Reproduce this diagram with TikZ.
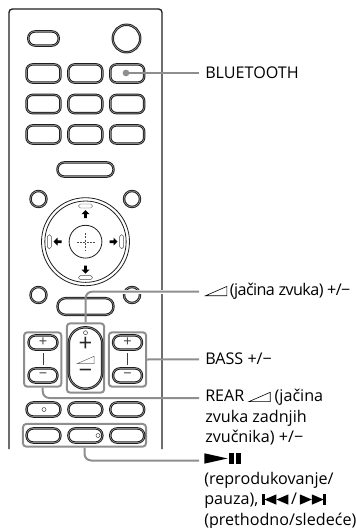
\documentclass[tikz,border=0pt]{standalone}
\usepackage{fontspec}
\setmainfont{Open Sans}
\usepackage{xcolor}
\usetikzlibrary{positioning}

\definecolor{keyline}{HTML}{1E1E1E}
\definecolor{leadgray}{HTML}{8E8E8E}

% inline symbols of the labels
\newcommand{\volicon}{\tikz[baseline=0pt,x=1pt,y=1pt]{\draw[line width=.45pt] (0,0) -- (16,0) -- (16,7) -- cycle;}}
\newcommand{\playicon}{\tikz[baseline=0pt,x=1pt,y=1pt]{\fill[black] (0,0) -- (17.5,3.9) -- (0,7.8) -- cycle; \fill[black] (18.5,0) rectangle (22.2,7.8); \fill[black] (24,0) rectangle (27.7,7.8);}}
\newcommand{\previcon}{\tikz[baseline=0pt,x=1pt,y=1pt]{\fill[black] (0,0) rectangle (1.8,7.8); \fill[black] (1.5,3.9) -- (10.5,7.8) -- (10.5,0) -- cycle; \fill[black] (10.5,3.9) -- (19.5,7.8) -- (19.5,0) -- cycle;}}
\newcommand{\nexticon}{\tikz[baseline=0pt,x=1pt,y=1pt]{\fill[black] (0,0) -- (9,3.9) -- (0,7.8) -- cycle; \fill[black] (9,0) -- (18,3.9) -- (9,7.8) -- cycle; \fill[black] (17.7,0) rectangle (19.5,7.8);}}

\begin{document}
\begin{tikzpicture}[
  x=.75pt, y=-.75pt,
  node distance=5.25pt,
  key/.style={rectangle, rounded corners=4.5pt, draw=keyline, double=white!75!black, double distance=.3pt, line width=.75pt, inner sep=0pt, minimum width=25.4pt, minimum height=13.6pt},
  pill/.style={rectangle, rounded corners=5pt, draw=keyline, double=white!75!black, double distance=.3pt, line width=.75pt, inner sep=0pt, minimum width=25.4pt, minimum height=10.6pt},
  sidekey/.style={pill, minimum width=21.6pt, font=\fontsize{11}{11}\selectfont, text=black!75},
  round/.style={circle, draw=keyline, double=white!75!black, double distance=.3pt, line width=.75pt, inner sep=0pt},
  slot/.style={rectangle, rounded corners=1.4pt, draw=black!70, line width=.35pt, inner sep=0pt},
  hole/.style={circle, draw=black!80, line width=.35pt, inner sep=0pt, minimum size=3pt},
  groupbox/.style={rectangle, rounded corners=2.5pt, draw=leadgray, line width=1.5pt, inner sep=0pt},
  leader/.style={draw=leadgray, line width=1.5pt, rounded corners=5pt},
  lbl/.style={anchor=west, inner sep=0pt, align=left, font=\fontsize{12.1}{15.4}\selectfont},
  sign/.style={inner sep=0pt, text=black!85, font=\fontsize{18}{18}\selectfont},
  dpadarrow/.pic={\fill[black] (-4,-.5) -- (0,-4.5) -- (4,-.5) -- (1.4,-.5) -- (1.4,3.5) -- (-1.4,3.5) -- (-1.4,-.5) -- cycle;},
]
  \useasboundingbox (0,0) rectangle (356,528);

  % case
  \draw[keyline, line width=1pt, rounded corners=2.5pt] (9,449) -- (9,9) -- (162,9) -- (162,449);

  % top
  \node[pill, minimum width=22.8pt] (power) at (43.5,38.5) {};
  \node[round, minimum size=20.6pt] (dial) at (126.5,38.5) {};

  % key block
  \node[key] (k11) at (43.5,73.5) {};
  \node[key, right=of k11] (k12) {};
  \node[key, right=of k12] (k13) {};
  \node[key] (k21) at (43.5,104) {};
  \node[key, right=of k21] (k22) {};
  \node[key, right=of k22] (k23) {};
  \node[key] (k31) at (43.5,134.5) {};
  \node[key, right=of k31] (k32) {};
  \node[key, right=of k32] (k33) {};
  \node[pill, minimum width=42pt] (wide) at (85.5,169.5) {};

  % d-pad
  \node[circle, draw=keyline, line width=.6pt, minimum size=66pt, inner sep=0pt] (ring) at (85.5,241.7) {};
  \node[circle, draw=keyline, line width=.6pt, minimum size=61pt, inner sep=0pt] (ringin) at (85.5,241.7) {};
  \node[circle, draw=keyline, line width=.6pt, minimum size=24.6pt, inner sep=0pt] (enter) at (85.5,241.7) {};
  \node[slot, minimum width=10.5pt, minimum height=3pt] (sn) at (85.5,206) {};
  \node[slot, minimum width=10.5pt, minimum height=3pt] (ss) at (85.5,277.7) {};
  \node[slot, minimum width=3pt, minimum height=10.5pt] (sw) at (49.3,241.7) {};
  \node[slot, minimum width=3pt, minimum height=10.5pt] (se) at (121.7,241.7) {};
  \pic at (85.5,214.5) {dpadarrow};
  \pic[rotate=180] at (85.5,269) {dpadarrow};
  \pic[rotate=-90] at (113,241.7) {dpadarrow};
  \pic[rotate=90] at (58,241.7) {dpadarrow};
  \draw[black!70, line width=.3pt, dash pattern=on 1.5pt off 1pt] (85.5,233) -- (85.5,250.5);
  \draw[black!70, line width=.3pt, dash pattern=on 1.5pt off 1pt] (76.5,241.7) -- (94.5,241.7);

  \node[round, minimum size=12pt] (c1) at (38.5,199) {};
  \node[round, minimum size=12pt] (c2) at (132,199) {};
  \node[round, minimum size=12pt] (c3) at (38.5,295) {};
  \node[round, minimum size=12pt] (c4) at (132,295) {};
  \node[pill, minimum width=42pt, minimum height=12.5pt, rounded corners=6pt] (wide2) at (85.5,306.5) {};

  % groups
  \node[groupbox, minimum width=28pt, minimum height=52pt] (volbox) at (85.5,358) {};
  \node[groupbox, minimum width=28pt, minimum height=40.8pt] (rearbox) at (42.7,359.5) {};
  \node[groupbox, minimum width=28pt, minimum height=40.8pt] (bassbox) at (127.5,359.5) {};
  \node[groupbox, minimum width=92.3pt, minimum height=17pt] (playbox) at (84.5,435.3) {};

  % volume
  \node[rectangle, rounded corners=12pt, draw=keyline, double=white!75!black, double distance=.3pt, line width=.75pt, inner sep=0pt, minimum width=25pt, minimum height=46pt] (volkey) at (85.5,358) {};
  \node[hole] (voldot) at (85.5,332.7) {};
  \node[sign] (volplus) at (85.5,344) {+};
  \node[inner sep=0pt, text=black!60, scale=.8] (volsym) at (85.5,360) {\volicon};
  \node[sign] (volminus) at (85.5,374) {−};

  % rear and bass
  \node[sidekey] (rearplus) at (43,342.5) {+};
  \node[sidekey] (rearminus) at (43,375.5) {−};
  \node[sidekey] (bassplus) at (127.5,342.5) {+};
  \node[sidekey] (bassminus) at (127.5,375.5) {−};
  \draw[black!75, line width=.6pt] (rearplus.south) ++(0,3) -- ([yshift=2.2pt]rearminus.north);
  \draw[black!75, line width=.6pt] (bassplus.south) ++(0,3) -- ([yshift=2.2pt]bassminus.north);

  % lower keys
  \node[pill] (m1) at (43.5,409.5) {};
  \node[pill, right=of m1] (m2) {};
  \node[pill, right=of m2] (m3) {};
  \node[pill] (p1) at (43.5,435.5) {};
  \node[pill, right=of p1] (p2) {};
  \node[pill, right=of p2] (p3) {};
  \node[hole] (m1dot) at (44,409.5) {};
  \node[hole] (p2dot) at (98,435.5) {};

  % labels
  \node[lbl] (bluetooth) at (205,73) {BLUETOOTH};
  \node[lbl] (volume) at (205,291.5) {\volicon\,\addfontfeature{LetterSpace=-3.5}(jačina zvuka) +/−};
  \node[lbl] (bass) at (205,359) {BASS +/−};
  \node[lbl, anchor=north west] (rear) at (205,389) {REAR \volicon\ (jačina\\zvuka zadnjih\\zvučnika) +/−};
  \node[lbl, anchor=north west] (play) at (204,453) {\playicon\\(reprodukovanje/\\pauza), \previcon\,/\,\nexticon\\(prethodno/sledeće)};

  \coordinate (rearend) at (199,398);
  \coordinate (playend) at (199,460.5);
  \coordinate (btend) at (199,73);
  \coordinate (volend) at (199,291.7);
  \coordinate (bassend) at (199,359.3);

  % leaders
  \node[circle, fill=leadgray, inner sep=0pt, minimum size=5pt] (btdot) at (126,73) {};
  \draw[leader] (btdot.center) -- (btend);
  \draw[white, line width=3pt] (90,291.7) -- (volend);
  \draw[leader] (volbox.north) |- (volend);
  \draw[leader] (bassbox.east) -- (bassend);
  \draw[leader] (rearbox.south) |- (rearend);
  \draw[leader] (playbox.south) |- (playend);
\end{tikzpicture}
\end{document}
